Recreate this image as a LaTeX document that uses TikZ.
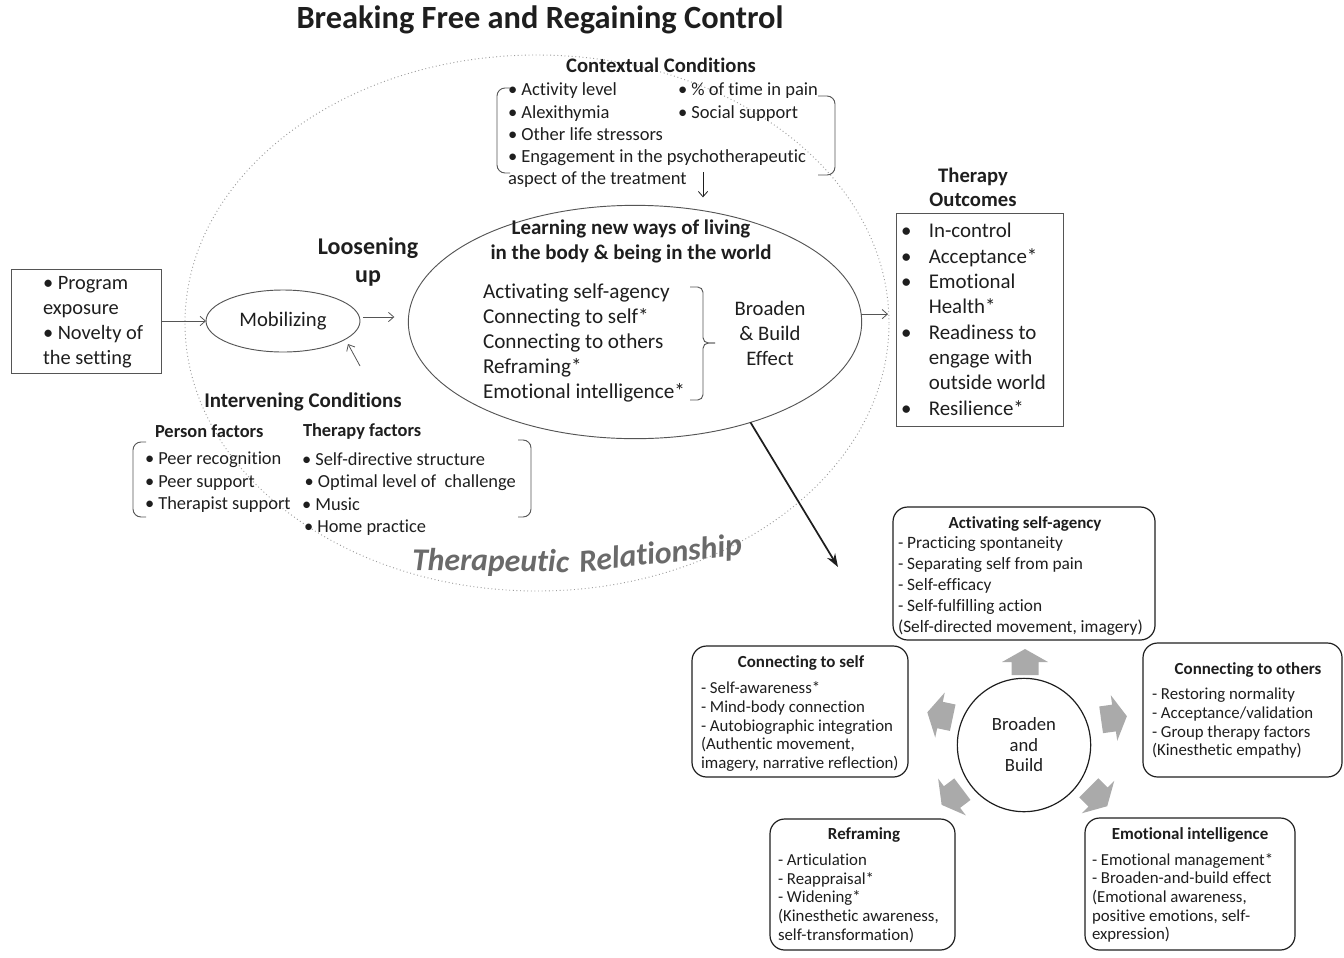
\documentclass[tikz,border=0pt]{standalone}
\usepackage{fontspec}
\setmainfont{Carlito}[Ligatures=NoCommon]
\usetikzlibrary{arrows.meta,shapes.geometric,calc}

\definecolor{ink}{HTML}{1E1E1E}
\definecolor{lineg}{HTML}{555555}
\definecolor{dotg}{HTML}{9C9C9C}
\definecolor{blockg}{HTML}{AAAAAA}
\definecolor{relg}{HTML}{6A6A6A}

\newcommand{\fsz}[2]{\fontsize{#1}{#2}\selectfont}
% grey block arrow: centre x, centre y, direction angle
\newcommand{\blockarrow}[3]{%
  \fill[blockg, shift={(#1,#2)}, rotate=#3]
    (-13,-13.5) -- (0,-13.5) -- (0,-23) -- (13,0) -- (0,23) -- (0,13.5) -- (-13,13.5) -- cycle;}

\begin{document}
\begin{tikzpicture}[x=0.75pt,y=-0.75pt,
  every node/.style={text=ink, inner sep=0pt, outer sep=0pt},
  arr/.style={draw=lineg, line width=0.6pt, -{Straight Barb[length=4pt,width=7pt]}},
  brk/.style={draw=lineg, line width=0.7pt, rounded corners=6pt},
  bbox/.style={draw=ink, line width=0.9pt, rounded corners=11pt},
  sqbox/.style={draw=lineg, line width=0.7pt},
  bhead/.style={font=\fsz{12.7}{15}\bfseries},
  blines/.style={align=left, anchor=west, font=\fsz{12.6}{14}},
  reltext/.style={anchor=base west, text=relg, font=\fsz{23.8}{28}\bfseries\itshape},
]
\useasboundingbox (0,0) rectangle (1344,957);

% ---------- title ----------
\node[font=\fsz{24.3}{28}\bfseries] (title) at (540,20) {Breaking Free and Regaining Control};

% ---------- therapeutic relationship (dotted frame) ----------
\node[ellipse, draw=dotg, dotted, line width=0.7pt, minimum width=528pt, minimum height=402pt] (rel) at (537,323) {};
\node[reltext, rotate=-0.8] (relA) at (412,570) {Therapeutic};
\node[reltext, rotate=6] (relB) at (580,572) {Relationship};

% ---------- contextual conditions ----------
\node[font=\fsz{15.5}{18}\bfseries] (ctxtitle) at (661,65) {Contextual Conditions};
\node[align=left, anchor=west, font=\fsz{13.9}{16.7}] (ctxA) at (508,135.5)
  {• Activity level\\• Alexithymia\\• Other life stressors\\• Engagement in the psychotherapeutic\\aspect of the treatment};
\node[align=left, anchor=west, font=\fsz{13.9}{16.7}] (ctxB) at (678,102)
  {• \% of time in pain\\• Social support};
\draw[brk] (510,88) -- (497,88) -- (497,173) -- (510,173);
\draw[brk] (818,96) -- (835,96) -- (835,175) -- (818,175);

% ---------- central process ----------
\node[ellipse, draw=lineg, line width=0.7pt, minimum width=340pt, minimum height=175pt] (learn) at (635,322) {};
\node[font=\fsz{15.7}{18.75}\bfseries, align=center] (learnt) at (631,241)
  {Learning new ways of living\\in the body \& being in the world};
\node[align=left, anchor=west, font=\fsz{15.9}{18.75}] (skills) at (483,343)
  {Activating self-agency\\Connecting to self*\\Connecting to others\\Reframing*\\Emotional intelligence*};
\draw[brk, rounded corners=4pt] (690,287) -- (703,287) -- (703,343) -- (715,343);
\draw[brk, rounded corners=4pt] (715,343) -- (703,343) -- (703,400) -- (690,400);
\node[align=center, font=\fsz{15.5}{18.75}] (effect) at (770,333) {Broaden\\\& Build\\Effect};

\node[align=center, font=\fsz{18}{21}\bfseries] (loose) at (368,262) {Loosening\\up};

% ---------- antecedents and mobilizing ----------
\node[sqbox, minimum width=112.5pt, minimum height=78pt] (prog) at (86,321) {};
\node[align=left, anchor=west, font=\fsz{15.3}{18.75}] (progt) at (43,322)
  {• Program\\exposure\\• Novelty of\\the setting};
\node[ellipse, draw=lineg, line width=0.7pt, minimum width=115.5pt, minimum height=46.5pt,
  font=\fsz{15.5}{18}] (mob) at (283,321) {Mobilizing};

% ---------- therapy outcomes ----------
\node[align=center, font=\fsz{15.5}{18}\bfseries] (outt) at (973,187) {Therapy\\Outcomes};
\node[sqbox, minimum width=125.25pt, minimum height=159.75pt] (out) at (979.5,319.5) {};
\node[anchor=west, font=\fsz{15.7}{19}] (outl) at (901,321.5)
  {\begin{tabular}{@{}l@{\hspace{13pt}}l@{}}
   •&In-control\\ •&Acceptance*\\ •&Emotional\\ &Health*\\ •&Readiness to\\
   &engage with\\ &outside world\\ •&Resilience*
   \end{tabular}};

% ---------- intervening conditions ----------
\node[font=\fsz{15.7}{18}\bfseries] (intt) at (303,402) {Intervening Conditions};
\node[anchor=west, font=\fsz{13.8}{16}\bfseries] (pf) at (155,431) {Person factors};
\node[anchor=west, font=\fsz{13.8}{16}\bfseries] (tf) at (303,431) {Therapy factors};
\node[align=left, anchor=west, font=\fsz{13.8}{16.9}] (pfl) at (145,482.5)
  {• Peer recognition\\• Peer support\\• Therapist support};
\node[align=left, anchor=west, font=\fsz{13.8}{16.9}] (tfl) at (302,494)
  {• Self-directive structure\\\hspace*{2pt}• Optimal level of~ challenge\\• Music\\\hspace*{1.5pt}• Home practice};
\draw[brk] (146,442) -- (133,442) -- (133,517) -- (146,517);
\draw[brk] (518,440) -- (531,440) -- (531,517) -- (518,517);

% ---------- connectors ----------
\draw[arr] (prog.east) -- (mob.west);
\draw[arr] ([shift={(3,-4)}]mob.east) -- ([shift={(-14,-5)}]learn.west);
\coordinate (intv) at (360,366);
\coordinate (mobtip) at (348,344);
\draw[arr] (intv) -- (mobtip);
\coordinate (ctxdown) at (703,172);
\draw[arr, draw=ink, shorten >=6pt] (ctxdown) -- (ctxdown |- learn.north);
\draw[arr, shorten >=6pt] (learn.2) -- (learn.2 -| out.west);
\coordinate (zoomin) at (838,567);
\draw[line width=1.3pt, draw=ink, -{Stealth[length=10pt,width=7pt]}] (learn.-41) -- (zoomin);

% ---------- broaden and build cycle ----------
\node[circle, draw=ink, line width=0.9pt, minimum size=100pt, align=center,
  font=\fsz{14}{15.4}] (bb) at (1024,745) {Broaden\\and\\Build};
\blockarrow{1025}{662}{90}
\blockarrow{940}{715}{168}
\blockarrow{1114}{718}{8}
\blockarrow{952}{797}{217}
\blockarrow{1098}{797}{-45}

\node[bbox, minimum width=196.5pt, minimum height=99.75pt] (agency) at (1024,573.5) {};
\node[bhead] at (1025,524) {Activating self-agency};
\node[blines, font=\fsz{13}{15.6}] at (898,586)
  {- Practicing spontaneity\\- Separating self from pain\\- Self-efficacy\\- Self-fulfilling action\\(Self-directed movement, imagery)};

\node[bbox, minimum width=162pt, minimum height=98.25pt] (cself) at (800,711.5) {};
\node[bhead] at (801,663) {Connecting to self};
\node[blines] at (701,726.5)
  {- Self-awareness*\\- Mind-body connection\\- Autobiographic integration\\(Authentic movement,\\imagery, narrative reflection)};

\node[bbox, minimum width=149.25pt, minimum height=100.5pt] (cothers) at (1242.5,710) {};
\node[bhead] at (1248,670) {Connecting to others};
\node[blines] at (1152,723.5)
  {- Restoring normality\\- Acceptance/validation\\- Group therapy factors\\(Kinesthetic empathy)};

\node[bbox, minimum width=138.75pt, minimum height=98.25pt] (refr) at (862.5,884.5) {};
\node[bhead] at (864,835) {Reframing};
\node[blines] at (778,898)
  {- Articulation\\- Reappraisal*\\- Widening*\\(Kinesthetic awareness,\\self-transformation)};

\node[bbox, minimum width=157.5pt, minimum height=99pt] (emo) at (1190,884) {};
\node[bhead] at (1190,835) {Emotional intelligence};
\node[blines] at (1092,898)
  {- Emotional management*\\- Broaden-and-build effect\\(Emotional awareness,\\positive emotions, self-\\expression)};
\end{tikzpicture}
\end{document}
